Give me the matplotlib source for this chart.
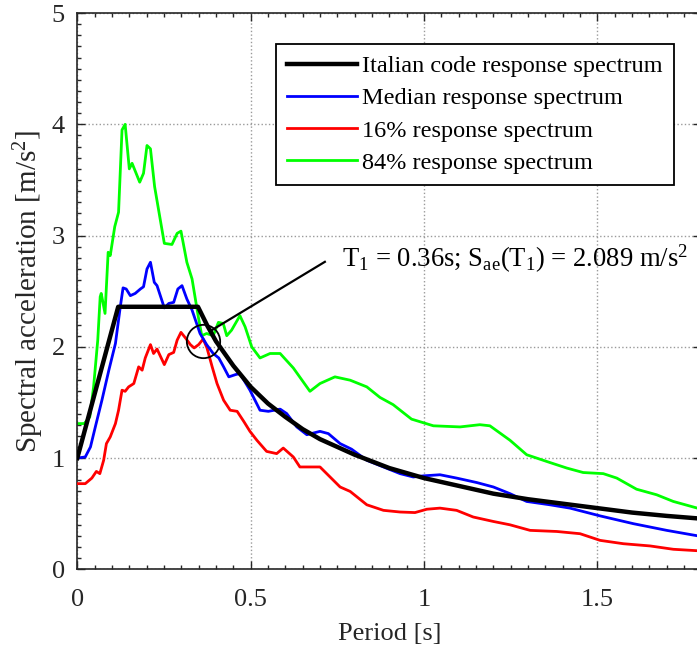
import matplotlib
matplotlib.use('Agg')
import matplotlib.pyplot as plt
from matplotlib.ticker import MultipleLocator

plt.rcParams['font.family'] = 'Liberation Serif'
plt.rcParams['mathtext.fontset'] = 'custom'
plt.rcParams['mathtext.rm'] = 'Liberation Serif'
plt.rcParams['mathtext.it'] = 'Liberation Serif:italic'

# Italian code spectrum
T_code = [0.0, 0.118, 0.348, 0.375, 0.40, 0.45, 0.50, 0.55, 0.60, 0.65, 0.70, 0.75,
          0.80, 0.90, 1.00, 1.10, 1.20, 1.30, 1.40, 1.50, 1.60, 1.70, 1.80]
Sa_code = [1.00, 2.36, 2.36, 2.19, 2.05, 1.83, 1.64, 1.49, 1.37, 1.26, 1.17, 1.10,
           1.03, 0.91, 0.82, 0.75, 0.68, 0.63, 0.59, 0.55, 0.51, 0.48, 0.455]

# median
T_med = [0.0, 0.023, 0.038, 0.052, 0.071, 0.091, 0.110, 0.124, 0.132, 0.141, 0.153,
         0.167, 0.182, 0.191, 0.201, 0.211, 0.222, 0.230, 0.251, 0.264, 0.278, 0.290,
         0.302, 0.316, 0.331, 0.354, 0.373, 0.392, 0.408, 0.422, 0.437, 0.456, 0.469,
         0.498, 0.527, 0.551, 0.585, 0.604, 0.633, 0.662, 0.700, 0.724, 0.758, 0.791,
         0.835, 0.883, 0.931, 0.969, 0.998, 1.046, 1.094, 1.152, 1.200, 1.248, 1.296,
         1.363, 1.421, 1.508, 1.604, 1.700, 1.8]
Sa_med = [1.00, 1.01, 1.10, 1.28, 1.52, 1.79, 2.03, 2.36, 2.53, 2.52, 2.46,
          2.48, 2.52, 2.54, 2.70, 2.76, 2.58, 2.55, 2.35, 2.39, 2.40, 2.52,
          2.55, 2.43, 2.33, 2.12, 2.02, 1.94, 1.90, 1.82, 1.73, 1.75, 1.76,
          1.61, 1.43, 1.42, 1.44, 1.40, 1.28, 1.21, 1.24, 1.22, 1.13, 1.08,
          0.98, 0.92, 0.86, 0.83, 0.84, 0.85, 0.82, 0.78, 0.74, 0.68, 0.61,
          0.58, 0.55, 0.48, 0.41, 0.35, 0.295]

# 16th percentile
T_16 = [0.0, 0.023, 0.042, 0.055, 0.065, 0.076, 0.084, 0.095, 0.110, 0.119, 0.129,
        0.138, 0.148, 0.163, 0.177, 0.187, 0.196, 0.211, 0.220, 0.230, 0.251, 0.264,
        0.278, 0.288, 0.299, 0.312, 0.326, 0.337, 0.350, 0.363, 0.374, 0.389, 0.403,
        0.422, 0.441, 0.461, 0.480, 0.498, 0.518, 0.546, 0.575, 0.594, 0.623, 0.642,
        0.700, 0.729, 0.758, 0.787, 0.835, 0.883, 0.931, 0.974, 1.008, 1.046, 1.094,
        1.142, 1.200, 1.248, 1.306, 1.383, 1.450, 1.508, 1.575, 1.652, 1.719, 1.8]
Sa_16 = [0.77, 0.77, 0.82, 0.88, 0.86, 0.98, 1.13, 1.19, 1.31, 1.43, 1.61,
         1.60, 1.64, 1.67, 1.82, 1.79, 1.90, 2.02, 1.94, 1.98, 1.84, 1.93,
         1.95, 2.06, 2.13, 2.08, 2.02, 1.99, 2.02, 2.07, 1.99, 1.82, 1.67,
         1.52, 1.43, 1.42, 1.33, 1.24, 1.16, 1.06, 1.04, 1.09, 1.01, 0.92,
         0.92, 0.83, 0.74, 0.70, 0.58, 0.53, 0.515, 0.51, 0.54, 0.55, 0.53,
         0.47, 0.43, 0.40, 0.35, 0.34, 0.32, 0.26, 0.23, 0.21, 0.18, 0.165]

# 84th percentile
T_84 = [0.0, 0.020, 0.036, 0.047, 0.059, 0.066, 0.069, 0.080, 0.089, 0.095, 0.108,
        0.119, 0.129, 0.138, 0.150, 0.158, 0.180, 0.191, 0.201, 0.211, 0.223, 0.251,
        0.273, 0.288, 0.299, 0.316, 0.331, 0.349, 0.359, 0.373, 0.392, 0.407, 0.421,
        0.431, 0.445, 0.469, 0.484, 0.503, 0.527, 0.556, 0.585, 0.623, 0.671, 0.700,
        0.743, 0.787, 0.835, 0.873, 0.911, 0.964, 1.027, 1.104, 1.161, 1.190, 1.248,
        1.296, 1.363, 1.412, 1.459, 1.517, 1.556, 1.613, 1.671, 1.719, 1.8]
Sa_84 = [1.31, 1.31, 1.37, 1.64, 2.06, 2.45, 2.48, 2.30, 2.85, 2.82, 3.08,
         3.21, 3.95, 4.00, 3.60, 3.65, 3.48, 3.56, 3.81, 3.78, 3.44, 2.93,
         2.92, 3.02, 3.04, 2.76, 2.61, 2.27, 2.10, 2.12, 2.10, 2.22, 2.21,
         2.10, 2.15, 2.28, 2.18, 2.00, 1.90, 1.94, 1.94, 1.81, 1.60, 1.67,
         1.73, 1.70, 1.64, 1.545, 1.48, 1.35, 1.29, 1.28, 1.30, 1.29, 1.16,
         1.03, 0.96, 0.91, 0.87, 0.86, 0.82, 0.72, 0.67, 0.61, 0.54]

labels = ['Italian code response spectrum', 'Median response spectrum',
          '16% response spectrum', '84% response spectrum']

# marked point and callout
circ_T, circ_S = 0.363, 2.05
line_T = [0.388, 0.714]
line_S = [2.15, 2.764]
note = r'T$_\mathrm{1}$ = 0.36s; S$_\mathrm{ae}$(T$_\mathrm{1}$) = 2.089 m/s$^\mathrm{2}$'

fig = plt.figure(figsize=(6.97, 6.49), dpi=100)
ax = fig.add_axes([0.1109, 0.1228, 0.8954, 0.857])

gray = '#262626'
ax.plot(T_code, Sa_code, color='k', lw=3.2, label=labels[0], zorder=5)
ax.plot(T_med, Sa_med, color='#0000ff', lw=2, label=labels[1], zorder=4)
ax.plot(T_16, Sa_16, color='#ff0000', lw=2, label=labels[2], zorder=3)
ax.plot(T_84, Sa_84, color='#00ff00', lw=2, label=labels[3], zorder=2)

ax.plot([circ_T], [circ_S], 'o', ms=24, mfc='none', mec='k', mew=1.3, zorder=6)
ax.plot(line_T, line_S, color='k', lw=1.6, zorder=6)
ax.text(0.763, 2.72, note, fontsize=19.2, va='baseline', ha='left')

ax.set_xlim(0, 1.8)
ax.set_ylim(0, 5)
ax.xaxis.set_major_locator(MultipleLocator(0.5))
ax.xaxis.set_minor_locator(MultipleLocator(0.05))
ax.yaxis.set_major_locator(MultipleLocator(1))
ax.yaxis.set_minor_locator(MultipleLocator(0.1))
ax.xaxis.set_major_formatter(plt.FuncFormatter(lambda v, p: '%g' % v))

ax.tick_params(which='both', direction='in', top=True, right=True, colors=gray,
               labelsize=19, width=1)
ax.tick_params(which='major', length=6)
ax.tick_params(which='minor', length=3)
ax.tick_params(axis='x', which='major', pad=14)
ax.tick_params(axis='y', which='major', pad=9)
for s in ax.spines.values():
    s.set_color(gray)
    s.set_linewidth(1.2)

ax.grid(True, which='major', ls=':', color='#9a9a9a', lw=1)
ax.set_axisbelow(True)

ax.set_xlabel('Period [s]', fontsize=19, color=gray, labelpad=9)
ax.set_ylabel('Spectral acceleration [m/s$^2$]', fontsize=21, color=gray, labelpad=4)

leg = ax.legend(loc='upper left', bbox_to_anchor=(0.318, 0.944), borderaxespad=0,
                fontsize=17.5, frameon=True, fancybox=False, framealpha=1,
                edgecolor='k', handlelength=2.9, handletextpad=0.2,
                labelspacing=0.42, borderpad=0.45)
leg.get_frame().set_linewidth(1.3)

fig.savefig('out.png', dpi=100)
